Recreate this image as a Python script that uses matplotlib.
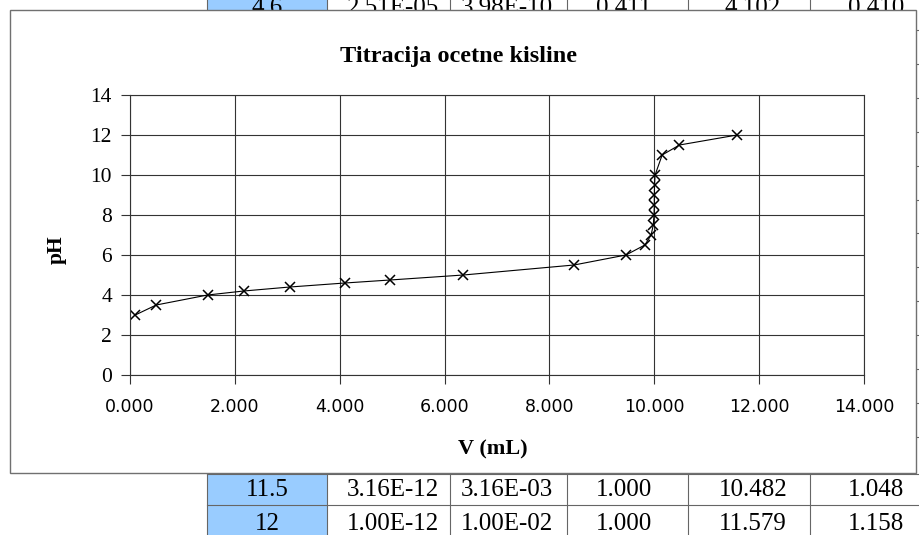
import numpy as np
import matplotlib.pyplot as plt
from matplotlib.patches import Rectangle
from matplotlib.ticker import FormatStrFormatter, MultipleLocator

# titration data
ph = [3, 3.5, 4, 4.2, 4.4, 4.6, 4.75, 5, 5.5, 6, 6.5, 7, 7.5, 8, 8.5, 9, 9.5, 10, 11, 11.5, 12]
vol = [0.10, 0.50, 1.48, 2.17, 3.05, 4.10, 4.96, 6.36, 8.47, 9.46, 9.82, 9.94, 9.98,
       9.995, 10.0, 10.0, 10.005, 10.015, 10.15, 10.48, 11.58]

# spreadsheet cells showing around the chart
row_top = ['4.6', '2.51E-05', '3.98E-10', '0.411', '4.102', '0.410']
row_115 = ['11.5', '3.16E-12', '3.16E-03', '1.000', '10.482', '1.048']
row_12 = ['12', '1.00E-12', '1.00E-02', '1.000', '11.579', '1.158']

W, H = 919, 535
fig = plt.figure(figsize=(W/100, H/100), dpi=100)

# background sheet, pixel coordinates
bg = fig.add_axes([0, 0, 1, 1])
bg.set_xlim(0, W)
bg.set_ylim(H, 0)
bg.axis('off')

col_x = [207, 327, 450, 567, 688, 810]
text_x = [267, 393, 507, 624, 753, 876]
grey = '#666666'

bg.add_patch(Rectangle((207, -5), 120, 30, fc='#99ccff', ec='none', zorder=1))
bg.add_patch(Rectangle((207, 474), 120, 70, fc='#99ccff', ec='none', zorder=1))
for x in col_x:
    bg.plot([x, x], [-5, 30], color=grey, lw=0.8, zorder=2)
    bg.plot([x, x], [474, 540], color=grey, lw=0.8, zorder=2)
bg.plot([207, W], [505, 505], color=grey, lw=0.8, zorder=2)
bg.plot([207, W], [474, 474], color=grey, lw=0.8, zorder=2)
for y in np.arange(30, 470, 33.9):
    bg.plot([914, W], [y, y], color=grey, lw=0.8, zorder=2)

cell_font = dict(family='Liberation Serif', fontsize=18, ha='center', va='baseline', zorder=3)
for x, s in zip(text_x, row_top):
    bg.text(x, 14, s, **cell_font)
for x, s in zip(text_x, row_115):
    bg.text(x, 496, s, **cell_font)
for x, s in zip(text_x, row_12):
    bg.text(x, 530, s, **cell_font)

# chart frame
bg.add_patch(Rectangle((9.5, 9.5), 906, 463, fc='white', ec='#707070', lw=1, zorder=5))

bg.text(458, 62, 'Titracija ocetne kisline', family='Liberation Serif', fontweight='bold',
        fontsize=17.5, ha='center', va='baseline', zorder=6)
bg.text(57, 250, 'pH', family='Liberation Serif', fontweight='bold', fontsize=15.5,
        rotation=90, ha='center', va='center', zorder=6)
bg.text(493, 454, 'V (mL)', family='Liberation Serif', fontweight='bold', fontsize=16,
        ha='center', va='baseline', zorder=6)

ax = fig.add_axes([130/W, 1 - 375/H, 734/W, 280/H])
ax.plot(vol, ph, color='black', lw=0.8, marker='x', ms=7, mew=1.1)
ax.set_xlim(0, 14)
ax.set_ylim(0, 14)
ax.xaxis.set_major_locator(MultipleLocator(2))
ax.yaxis.set_major_locator(MultipleLocator(2))
ax.xaxis.set_major_formatter(FormatStrFormatter('%.3f'))
ax.grid(True, color='#333333', lw=0.8)
for sp in ax.spines.values():
    sp.set_color('#333333')
    sp.set_linewidth(0.8)
ax.tick_params(axis='both', direction='out', length=6.5, width=0.8, color='#333333')
ax.tick_params(axis='x', pad=10, labelsize=12.5, labelfontfamily='DejaVu Sans')
ax.tick_params(axis='y', pad=6.5, labelsize=15.5, labelfontfamily='Liberation Serif')

plt.savefig('out.png', dpi=100)
